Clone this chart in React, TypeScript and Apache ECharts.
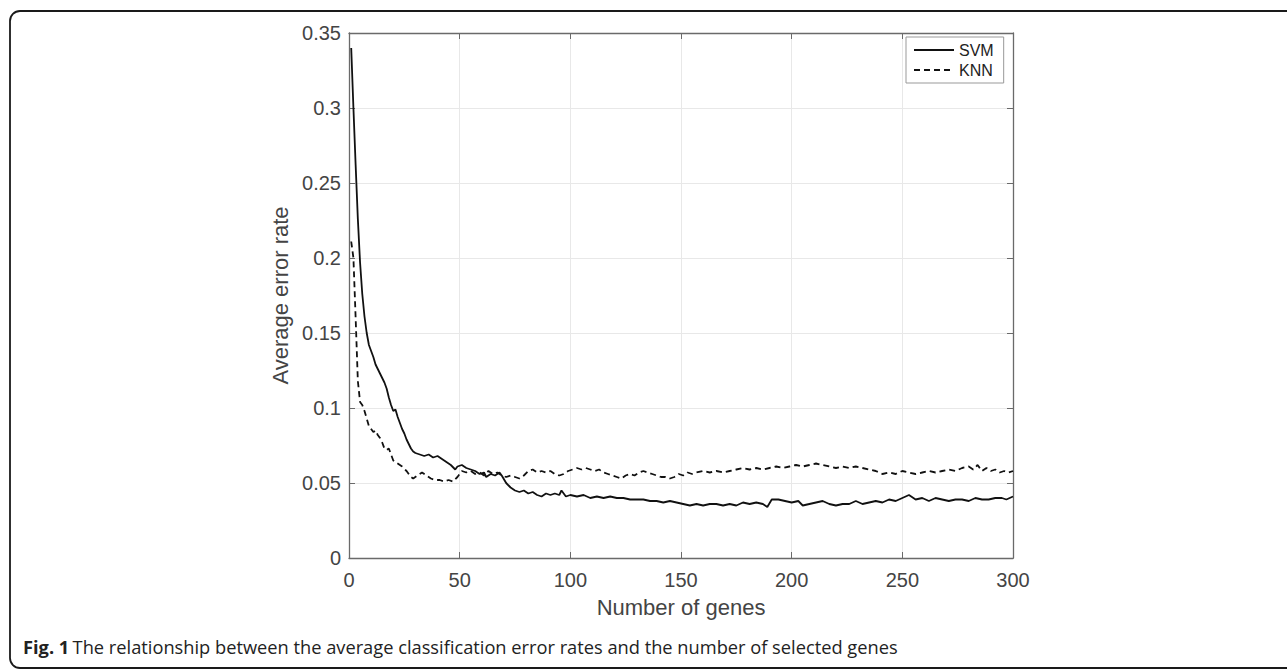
import React, { useEffect, useRef } from "react";
import * as echarts from "echarts";

const xTicks = [0, 50, 100, 150, 200, 250, 300];
const yTicks = [0, 0.05, 0.1, 0.15, 0.2, 0.25, 0.3, 0.35];
const seriesNames = ["SVM", "KNN"];
const xName = "Number of genes";
const yName = "Average error rate";
const captionBold = "Fig. 1";
const captionText = "The relationship between the average classification error rates and the number of selected genes";

// [number of genes, average error rate]
const svm: [number, number][] = [
  [1, 0.340], [2, 0.300], [3, 0.262], [4, 0.226], [5, 0.197], [6, 0.176], [7, 0.161], [8, 0.150], [9, 0.142], [10, 0.138],
  [11, 0.134], [12, 0.129], [13, 0.126], [14, 0.123], [15, 0.120], [16, 0.117], [17, 0.113], [18, 0.107], [19, 0.102], [20, 0.098],
  [21, 0.099], [22, 0.094], [23, 0.090], [24, 0.086], [25, 0.083], [26, 0.079], [27, 0.076], [28, 0.073], [29, 0.071], [30, 0.070],
  [32, 0.069], [34, 0.068], [36, 0.069], [38, 0.067], [40, 0.068], [42, 0.066], [44, 0.064], [46, 0.062], [48, 0.059], [49, 0.061],
  [51, 0.062], [53, 0.060], [55, 0.059], [57, 0.058], [59, 0.056], [61, 0.057], [62, 0.054], [64, 0.056], [66, 0.055], [68, 0.057],
  [69, 0.055], [71, 0.050], [73, 0.047], [75, 0.045], [77, 0.044], [79, 0.045], [81, 0.043], [83, 0.044], [85, 0.042], [87, 0.041],
  [89, 0.043], [91, 0.042], [93, 0.043], [95, 0.042], [96, 0.045], [98, 0.041], [100, 0.042], [103, 0.041], [106, 0.042], [109, 0.040],
  [112, 0.041], [115, 0.040], [118, 0.041], [121, 0.040], [124, 0.040], [127, 0.039], [130, 0.039], [133, 0.039], [136, 0.038], [139, 0.038],
  [142, 0.037], [145, 0.038], [148, 0.037], [151, 0.036], [154, 0.035], [157, 0.036], [160, 0.035], [163, 0.036], [166, 0.036], [169, 0.035],
  [172, 0.036], [175, 0.035], [178, 0.037], [181, 0.036], [184, 0.037], [187, 0.036], [189, 0.034], [191, 0.039], [194, 0.039], [197, 0.038],
  [200, 0.037], [203, 0.038], [205, 0.035], [208, 0.036], [211, 0.037], [214, 0.038], [217, 0.036], [220, 0.035], [223, 0.036], [226, 0.036],
  [229, 0.038], [232, 0.036], [235, 0.037], [238, 0.038], [241, 0.037], [244, 0.039], [247, 0.038], [250, 0.040], [253, 0.042], [256, 0.039],
  [259, 0.040], [262, 0.038], [265, 0.040], [268, 0.039], [271, 0.038], [274, 0.039], [277, 0.039], [280, 0.038], [283, 0.040], [286, 0.039],
  [289, 0.039], [292, 0.040], [295, 0.040], [297, 0.039], [300, 0.041],
];

const knn: [number, number][] = [
  [1, 0.211], [2, 0.200], [3, 0.160], [4, 0.118], [5, 0.104], [6, 0.102], [7, 0.098], [8, 0.093], [9, 0.088], [10, 0.086],
  [11, 0.084], [12, 0.085], [13, 0.082], [14, 0.080], [15, 0.077], [16, 0.073], [17, 0.072], [18, 0.073], [19, 0.069], [20, 0.065],
  [22, 0.063], [24, 0.061], [26, 0.058], [28, 0.054], [29, 0.053], [31, 0.055], [33, 0.057], [35, 0.055], [37, 0.053], [39, 0.052],
  [41, 0.052], [43, 0.051], [45, 0.052], [47, 0.051], [49, 0.054], [51, 0.058], [53, 0.057], [55, 0.058], [57, 0.056], [59, 0.057],
  [61, 0.055], [63, 0.058], [65, 0.056], [67, 0.057], [69, 0.055], [71, 0.054], [73, 0.055], [75, 0.054], [77, 0.053], [79, 0.055],
  [81, 0.058], [83, 0.059], [85, 0.057], [87, 0.058], [89, 0.057], [91, 0.058], [93, 0.056], [95, 0.055], [97, 0.056], [99, 0.058],
  [101, 0.059], [103, 0.060], [105, 0.059], [107, 0.060], [109, 0.059], [111, 0.058], [113, 0.059], [115, 0.057], [117, 0.056], [119, 0.055],
  [121, 0.054], [123, 0.053], [125, 0.055], [127, 0.056], [129, 0.055], [131, 0.057], [133, 0.058], [135, 0.057], [137, 0.056], [139, 0.055],
  [141, 0.054], [143, 0.054], [145, 0.053], [147, 0.054], [149, 0.056], [151, 0.055], [153, 0.057], [155, 0.056], [157, 0.057], [160, 0.058],
  [163, 0.057], [166, 0.058], [169, 0.057], [172, 0.058], [175, 0.059], [178, 0.060], [181, 0.059], [184, 0.060], [187, 0.059], [190, 0.060],
  [193, 0.061], [196, 0.060], [199, 0.061], [202, 0.062], [205, 0.061], [208, 0.062], [211, 0.063], [214, 0.062], [217, 0.061], [220, 0.060],
  [223, 0.061], [226, 0.060], [229, 0.061], [232, 0.060], [235, 0.059], [238, 0.058], [241, 0.056], [244, 0.057], [247, 0.056], [250, 0.058],
  [253, 0.057], [256, 0.056], [259, 0.057], [262, 0.058], [265, 0.057], [268, 0.058], [271, 0.059], [274, 0.058], [277, 0.060], [280, 0.061],
  [282, 0.059], [284, 0.062], [286, 0.058], [288, 0.060], [290, 0.058], [292, 0.059], [294, 0.057], [296, 0.058], [298, 0.057], [300, 0.058],
];

const FONT = "'Liberation Sans', Arial, Helvetica, sans-serif";

export default function App() {
  const ref = useRef<HTMLDivElement>(null);
  useEffect(() => {
    if (!ref.current) return;
    const chart = echarts.init(ref.current, null, { renderer: "svg" });
    const xMin = xTicks[0];
    const xMax = xTicks[xTicks.length - 1];
    const xInt = xTicks[1] - xTicks[0];
    const yMin = yTicks[0];
    const yMax = yTicks[yTicks.length - 1];
    const yInt = yTicks[1] - yTicks[0];
    const axisColor = "#6a6a6a";
    const labelColor = "#444";
    const gridColor = "#e8e8e8";
    const fmtY = (v: number) => String(+v.toFixed(2));

    chart.setOption({
      animation: false,
      backgroundColor: "#fff",
      grid: { left: 349, top: 33, width: 664, height: 525, containLabel: false },
      legend: {
        data: seriesNames,
        orient: "vertical",
        left: 906,
        top: 37,
        backgroundColor: "#fff",
        borderColor: "#999",
        borderWidth: 1,
        padding: [5, 10, 5, 7],
        itemGap: 4,
        itemWidth: 40,
        itemHeight: 14,
        itemStyle: { opacity: 0 },
        textStyle: { fontFamily: FONT, fontSize: 16, color: "#222" },
      },
      xAxis: [
        {
          type: "value",
          min: xMin,
          max: xMax,
          interval: xInt,
          position: "bottom",
          name: xName,
          nameLocation: "middle",
          nameGap: 38,
          nameTextStyle: { fontFamily: FONT, fontSize: 22, color: labelColor },
          axisLine: { show: true, lineStyle: { color: axisColor, width: 1.3 } },
          axisTick: { show: true, inside: true, length: 6, lineStyle: { color: axisColor } },
          axisLabel: { fontFamily: FONT, fontSize: 20, color: labelColor, margin: 12 },
          splitLine: { show: true, lineStyle: { color: gridColor, width: 1 } },
        },
        {
          type: "value",
          min: xMin,
          max: xMax,
          interval: xInt,
          position: "top",
          axisLine: { show: true, onZero: false, lineStyle: { color: axisColor, width: 1.3 } },
          axisTick: { show: true, inside: true, length: 6, lineStyle: { color: axisColor } },
          axisLabel: { show: false },
          splitLine: { show: false },
        },
      ],
      yAxis: [
        {
          type: "value",
          min: yMin,
          max: yMax,
          interval: yInt,
          position: "left",
          name: yName,
          nameLocation: "middle",
          nameGap: 33,
          nameTextStyle: { fontFamily: FONT, fontSize: 22, color: labelColor },
          axisLine: { show: true, lineStyle: { color: axisColor, width: 1.3 } },
          axisTick: { show: true, inside: true, length: 6, lineStyle: { color: axisColor } },
          axisLabel: { fontFamily: FONT, fontSize: 20, color: labelColor, margin: 8, formatter: fmtY },
          splitLine: { show: true, lineStyle: { color: gridColor, width: 1 } },
        },
        {
          type: "value",
          min: yMin,
          max: yMax,
          interval: yInt,
          position: "right",
          axisLine: { show: true, onZero: false, lineStyle: { color: axisColor, width: 1.3 } },
          axisTick: { show: true, inside: true, length: 6, lineStyle: { color: axisColor } },
          axisLabel: { show: false },
          splitLine: { show: false },
        },
      ],
      series: [
        {
          name: seriesNames[0],
          type: "line",
          data: svm,
          showSymbol: false,
          symbol: "none",
          lineStyle: { color: "#111", width: 1.8 },
          itemStyle: { color: "#111" },
        },
        {
          name: seriesNames[1],
          type: "line",
          data: knn,
          showSymbol: false,
          symbol: "none",
          lineStyle: { color: "#111", width: 1.8, type: [6, 4] },
          itemStyle: { color: "#111" },
        },
      ],
      graphic: [
        {
          type: "rect",
          silent: true,
          shape: { x: 10, y: 11, width: 1400, height: 657, r: 10 },
          style: { fill: "none", stroke: "#1a1a1a", lineWidth: 1.8 },
        },
        {
          type: "text",
          left: 23,
          top: 637,
          style: {
            text: "{b|" + captionBold + "} {n|" + captionText + "}",
            rich: {
              b: { fontFamily: "'Open Sans', sans-serif", fontSize: 18.25, fontWeight: "bold", fill: "#222" },
              n: { fontFamily: "'Open Sans', sans-serif", fontSize: 18.25, fill: "#222" },
            },
          },
        },
      ],
    });
    return () => chart.dispose();
  }, []);
  return (
    <div
      ref={ref}
      style={{ position: "fixed", left: 0, top: 0, width: 1287, height: 670, background: "#fff" }}
    />
  );
}
